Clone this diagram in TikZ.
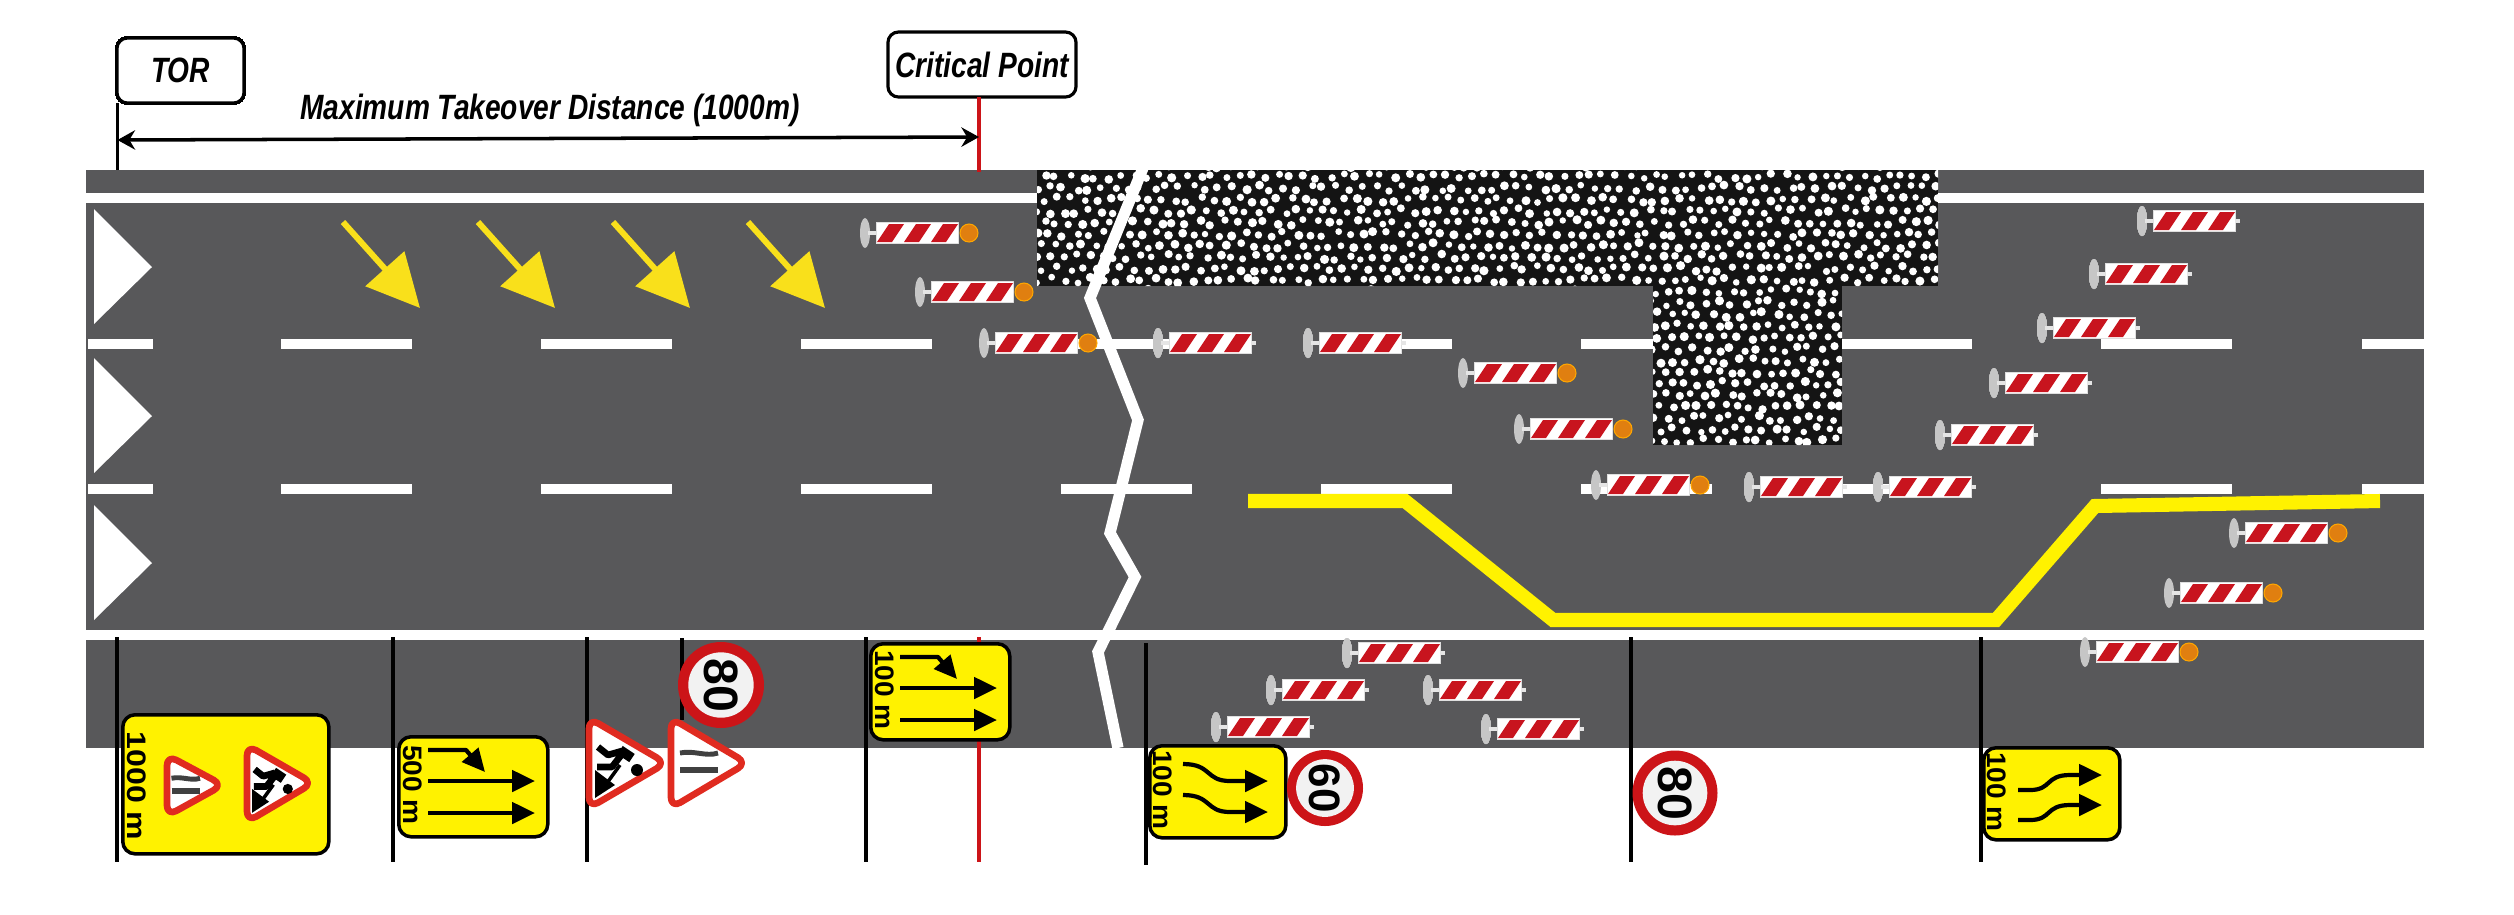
\documentclass[tikz,border=0pt]{standalone}
\usepackage{fontspec}
\setmainfont{Liberation Sans}
\newfontfamily\labelfont[FakeStretch=0.8]{Liberation Sans}
\newfontfamily\plaquefont[FakeStretch=1.05]{Liberation Sans}
\newfontfamily\wideplaquefont[FakeStretch=1.2]{Liberation Sans}
\usetikzlibrary{arrows.meta}
\definecolor{roadgrey}{HTML}{58585A}
\definecolor{signyellow}{HTML}{FFF200}
\definecolor{arrowyellow}{HTML}{F9E01B}
\definecolor{barrierred}{HTML}{C8141E}
\definecolor{signred}{HTML}{E02B20}
\definecolor{discred}{HTML}{CC1418}
\definecolor{lamporange}{HTML}{E07F10}
\tikzset{
  every picture/.style={line join=round, line cap=butt, >=Stealth},
  labelbox/.style={draw, rounded corners=3pt, line width=0.9pt, fill=white, inner sep=0pt, font=\labelfont\itshape\bfseries\fontsize{10}{12}\selectfont},
  signplate/.style={draw, rounded corners=3.5pt, line width=1pt, fill=signyellow, inner sep=0pt},
  signtext/.style={rotate=-90, inner sep=0pt, font=\plaquefont\bfseries\fontsize{7.6}{10}\selectfont},
  widesigntext/.style={rotate=-90, inner sep=0pt, font=\wideplaquefont\bfseries\fontsize{7.6}{10}\selectfont},
  warnsign/.style={draw=signred, fill=white, line width=1.9pt, rounded corners=3pt},
  signarrow/.style={line width=1.2pt, -{Triangle[length=6.5pt,width=6pt]}},
  bigarrow/.style={draw=arrowyellow, line width=1.7pt, -{Triangle[length=15pt,width=14.5pt]}},
  pole/.style={line width=1.05pt},
  redpole/.style={line width=1.05pt, draw=discred},
}
\newcommand{\barrier}[3]{
  \begin{scope}[shift={(#1,#2)}]
  \fill[gray!45] (0,0) ellipse[x radius=5, y radius=15];
  \fill[gray!20] (3,-2) rectangle (11,2);
  \fill[white, draw=gray!25, line width=0.2pt] (11,-10.5) rectangle (93,10.5);
  \foreach \s in {0,27,54}
    \fill[barrierred] (12+\s,9)--(27+\s,9)--(39+\s,-9)--(24+\s,-9)--cycle;
  \ifnum#3=1
    \fill[lamporange, draw=orange!70!yellow, line width=0.3pt] (104,0) circle[radius=9];
  \else
    \fill[gray!20] (93,-2) rectangle (98,2);
  \fi
  \end{scope}
}
\newcommand{\speedsign}[5]{
  \fill[discred] (#1,#2) circle[radius=#3];
  \fill[gray!10] (#1,#2) circle[radius=#3*0.76];
  \node[rotate=-90, inner sep=0pt, font=\bfseries\fontsize{#4}{#4}\selectfont] (limit#5 at #1) at (#1,#2) {#5};
}
\newcommand{\workman}[3]{
  \begin{scope}[shift={(#1,#2)}, scale=#3]
  \fill (48,7) circle[radius=6];
  \draw[line width=2.8pt] (43,-5)--(31,-13);
  \draw[line width=1.9pt] (33,-12)--(19,-8)--(9,-16) (33,-9)--(23,4)--(8,4);
  \draw[line width=1pt] (31,2)--(18,20);
  \fill (6,7)--(26,22)--(6,35)--cycle;
  \end{scope}
}
\newcommand{\narrowbars}[3]{
  \begin{scope}[shift={(#1,#2)}, scale=#3]
  \draw[line width=1.4pt, black!75] (-2,-9) .. controls (12,-12) and (24,-5) .. (36,-9);
  \draw[line width=1.5pt, black!75] (-2,8)--(36,8);
  \end{scope}
}
\newcommand{\bendsign}[6]{
  \node[signplate, anchor=north west, minimum width=#4*0.01cm, minimum height=#5*0.01cm] (#1) at (#2,#3) {};
  \node[signtext] (#1 text) at (#2+16,#3+#5/2) {#6};
  \begin{scope}[shift={(#2,#3)}]
  \draw[signarrow] (31,15)--(69,15)--(88,37);
  \draw[signarrow] (31,46)--(#4-11,46);
  \draw[signarrow] (31,78)--(#4-11,78);
  \end{scope}
}
\begin{document}
\begin{tikzpicture}[x=0.01cm,y=-0.01cm]
\useasboundingbox (0,0) rectangle (2514,914);
\fill[white] (0,0) rectangle (2514,914);
\fill[roadgrey] (86,170) rectangle (2424,748);
\fill[white] (86,193) rectangle (2424,203);
\fill[white] (86,629.5) rectangle (2424,639.5);
\foreach \y in {339,484} {
  \fill[white] (88,\y) rectangle (153,\y+10);
  \foreach \x in {281,541,...,2102}
    \fill[white] (\x,\y) rectangle (\x+131,\y+10);
  \fill[white] (2362,\y) rectangle (2424,\y+10);
}
\foreach \y in {209,358,505}
  \fill[white] (94,\y)--(152,\y+58)--(94,\y+115)--cycle;
\fill[black!92] (1037,170) rectangle (1938,286);
\fill[black!92] (1653,286) rectangle (1842,445);
\pgfmathsetseed{7}
\begin{scope}
\clip (1037,170) rectangle (1938,286) (1653,286) rectangle (1842,445);
\foreach \i in {1037,1050,...,1938}
  \foreach \j in {165,188,...,280} {
    \fill[white] (\i+3*rand,\j+3*rand) circle[radius=3.2+1.4*rnd];
    \fill[white] (\i+6.5+3*rand,\j+11.5+3*rand) circle[radius=3.2+1.4*rnd];
  }
\foreach \i in {1653,1666,...,1842}
  \foreach \j in {303,326,...,445} {
    \fill[white] (\i+3*rand,\j+3*rand) circle[radius=3.2+1.4*rnd];
    \fill[white] (\i+6.5+3*rand,\j+11.5+3*rand) circle[radius=3.2+1.4*rnd];
  }
\end{scope}
\foreach \x in {343,478,613,748}
  \draw[bigarrow] (\x,222)--(\x+77,308);
\draw[white, line width=3.2pt, line join=miter] (1143,168)--(1090,298)--(1138,420)--(1110,533)--(1135,577)--(1098,652)--(1118,748);
\draw[signyellow, line width=4pt, line join=miter] (1248,501)--(1405,501)--(1553,620)--(1996,620)--(2095,506)--(2380,501);
\foreach \x/\y in {865/233,920/292,984/343,1463/373,1519/429,1596/485,2234/533,2169/593,2085/652}
  \barrier{\x}{\y}{1}
\foreach \x/\y in {1158/343,1308/343,1749/487,1878/487,2142/221,2094/274,2042/328,1994/383,1940/435,1347/653,1271/690,1428/690,1216/727,1486/729}
  \barrier{\x}{\y}{0}
\node[labelbox, minimum width=1.27cm, minimum height=0.65cm] (tor) at (180.5,70.5) {TOR};
\node[labelbox, minimum width=1.88cm, minimum height=0.65cm] (critical) at (982,64.5) {Critical Point};
\coordinate (tor road) at (117.5,170);
\coordinate (critical road) at (979,172);
\coordinate (tor mark) at (117.5,140);
\coordinate (critical mark) at (979,137);
\draw[pole] (117.5,103)--(tor road);
\draw[redpole] (979,97)--(critical road);
\draw[{Stealth[length=5pt,width=5.5pt]}-{Stealth[length=5pt,width=5.5pt]}, line width=1pt] (tor mark)--(critical mark);
\node[inner sep=0pt, font=\labelfont\itshape\bfseries\fontsize{10}{12}\selectfont] (distance) at (550,110) {Maximum Takeover Distance (1000m)};
\foreach \x in {117,393,587,866,1631,1981}
  \draw[pole] (\x,637)--(\x,862);
\draw[pole] (1146,643)--(1146,865);
\draw[pole] (682,638)--(682,720);
\draw[redpole] (979,637)--(979,862);
\node[signplate, anchor=north west, minimum width=2.06cm, minimum height=1.39cm] (sign1000) at (121,713) {};
\node[widesigntext] (sign1000 text) at (137,786) {1000 m};
\draw[warnsign] (167,755)--(223,785)--(167,816)--cycle;
\narrowbars{173}{785}{0.75}
\draw[warnsign] (247,745)--(313,783)--(247,822)--cycle;
\workman{247}{783}{0.85}
\bendsign{sign500}{397}{735}{149}{100}{500 m}
\draw[warnsign] (589,718)--(666,763)--(589,808)--cycle;
\workman{589}{763}{1}
\draw[warnsign] (671,718)--(747,763)--(671,808)--cycle;
\narrowbars{682}{762}{1}
\speedsign{721}{685}{43}{13.7}{80}
\bendsign{sign100a}{869}{642}{139}{96}{100 m}
\node[signplate, anchor=north west, minimum width=1.36cm, minimum height=0.92cm] (sign100b) at (1148,744) {};
\node[signtext] (sign100b text) at (1163,790) {100 m};
\foreach \y in {0,31}
  \draw[signarrow] (1183,764+\y) .. controls (1212,764+\y) and (1205,781+\y) .. (1230,781+\y)--(1268,781+\y);
\speedsign{1325}{788}{38}{12.5}{60}
\speedsign{1675}{793}{42.5}{13.7}{80}
\node[signplate, anchor=north west, minimum width=1.36cm, minimum height=0.92cm] (sign100c) at (1982,746) {};
\node[signtext] (sign100c text) at (1997,792) {100 m};
\foreach \y in {0,30}
  \draw[signarrow] (2018,790+\y)--(2030,790+\y) .. controls (2052,790+\y) and (2045,775+\y) .. (2070,775+\y)--(2102,775+\y);
\end{tikzpicture}
\end{document}
